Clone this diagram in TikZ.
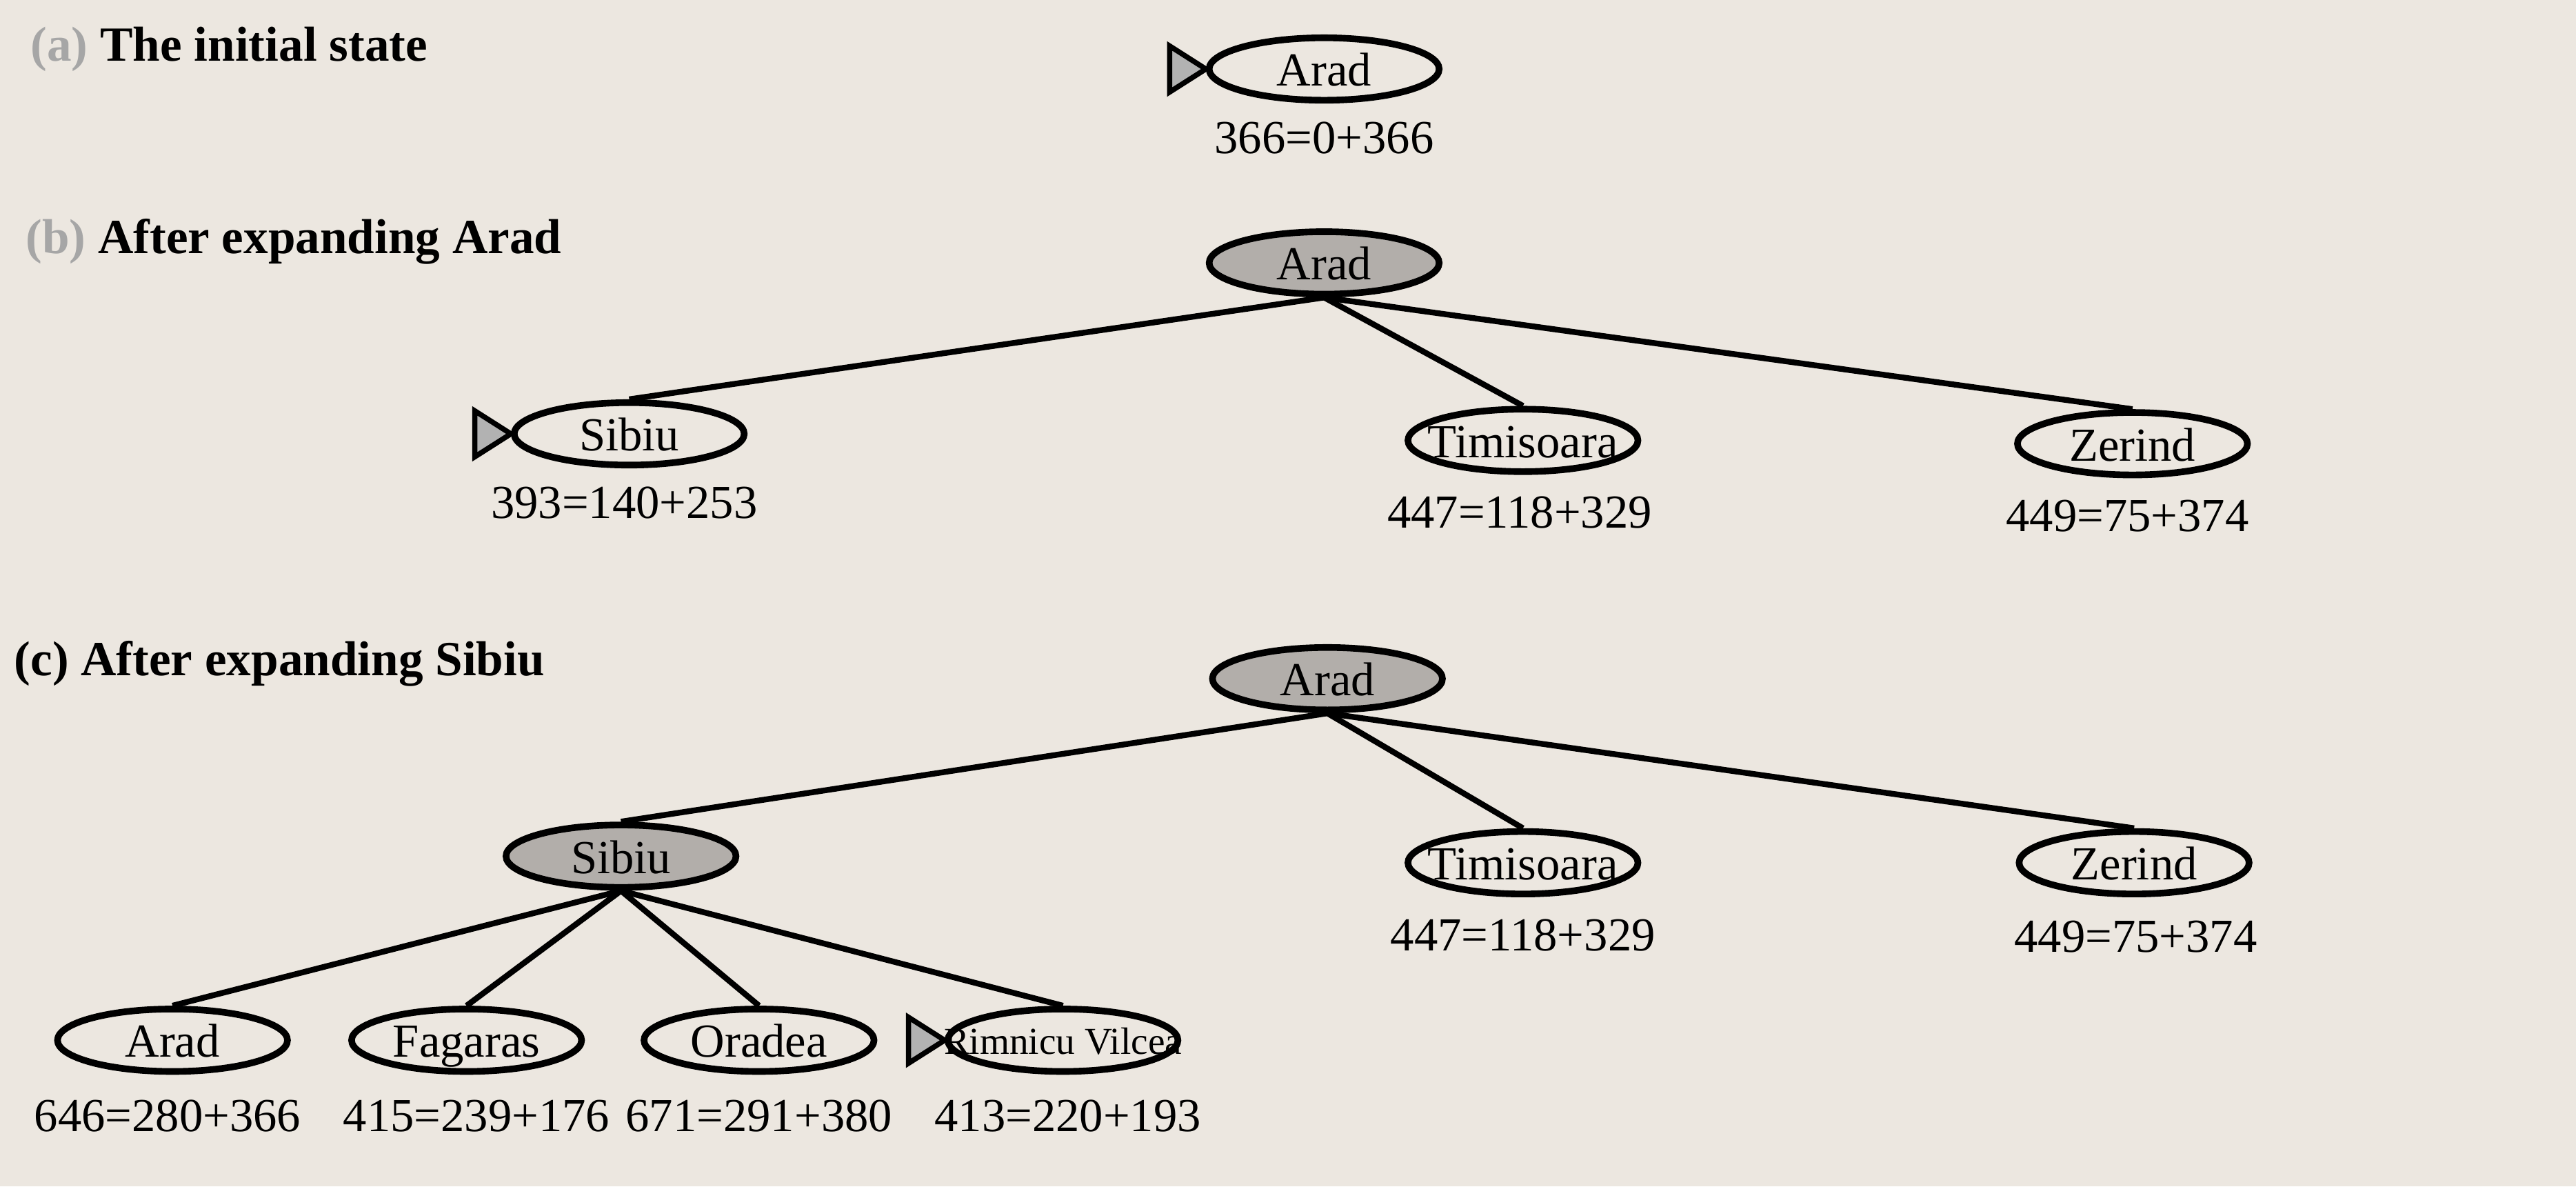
\documentclass[tikz,border=0pt]{standalone}
\usepackage{fontspec}
\setmainfont{Liberation Serif}
\usepackage{tikz}
\usetikzlibrary{shapes.geometric}
\definecolor{paper}{RGB}{236,231,224}
\definecolor{shade}{RGB}{178,174,170}
\newcommand{\cname}[1]{\makebox[0pt]{\raisebox{-0.36em}[0pt][0pt]{#1}}}

\begin{document}
\begin{tikzpicture}[
        city/.style={draw,ellipse,line width=1.15pt,minimum width=1.40cm,minimum height=0.38cm,inner sep=0pt,font=\fontsize{8.2pt}{9pt}\selectfont},
        expanded/.style={city,fill=shade},
        cost/.style={font=\fontsize{8.2pt}{9pt}\selectfont,inner sep=0pt},
        caption/.style={anchor=west,font=\fontsize{8.5pt}{10pt}\selectfont\bfseries,inner sep=0pt},
        pointer/.style={draw,fill=gray!60,line width=0.9pt,line join=miter},
        link/.style={line width=1pt}]
        \fill[paper] (0,0) rectangle (15.68,-7.22);
        \useasboundingbox (0,0) rectangle (15.68,-7.22);

        \node[caption] (ta) at (0.18,-0.30) {\textcolor{gray!70}{(a)} The initial state};
        \node[city] (a-arad) at (8.06,-0.42) {\cname{Arad}};
        \node[cost] (a-arad-f) at (8.06,-0.84) {366=0+366};
        \draw[pointer] (a-arad.west) -- ++(-0.22,0.14) -- ++(0,-0.28) -- cycle;

        \node[caption] (tb) at (0.15,-1.47) {\textcolor{gray!70}{(b)} After expanding Arad};
        \node[expanded] (b-arad) at (8.06,-1.60) {\cname{Arad}};
        \node[city] (b-sibiu) at (3.83,-2.64) {\cname{Sibiu}};
        \node[city] (b-timi) at (9.27,-2.68) {\cname{Timisoara}};
        \node[city] (b-zer) at (12.98,-2.70) {\cname{Zerind}};
        \node[cost] (b-sibiu-f) at (3.80,-3.06) {393=140+253};
        \node[cost] (b-timi-f) at (9.25,-3.12) {447=118+329};
        \node[cost] (b-zer-f) at (12.95,-3.14) {449=75+374};
        \draw[pointer] (b-sibiu.west) -- ++(-0.22,0.14) -- ++(0,-0.28) -- cycle;
        \draw[link] (b-arad.south) -- (b-sibiu.north);
        \draw[link] (b-arad.south) -- (b-timi.north);
        \draw[link] (b-arad.south) -- (b-zer.north);

        \node[caption] (tc) at (0.08,-4.04) {(c) After expanding Sibiu};
        \node[expanded] (c-arad) at (8.08,-4.13) {\cname{Arad}};
        \node[expanded] (c-sibiu) at (3.78,-5.21) {\cname{Sibiu}};
        \node[city] (c-timi) at (9.27,-5.25) {\cname{Timisoara}};
        \node[city] (c-zer) at (12.99,-5.25) {\cname{Zerind}};
        \node[cost] (c-timi-f) at (9.27,-5.69) {447=118+329};
        \node[cost] (c-zer-f) at (13.00,-5.70) {449=75+374};
        \node[city] (c-arad2) at (1.05,-6.33) {\cname{Arad}};
        \node[city] (c-fag) at (2.84,-6.33) {\cname{Fagaras}};
        \node[city] (c-ora) at (4.62,-6.33) {\cname{Oradea}};
        \node[city,font=\fontsize{6.6pt}{8pt}\selectfont] (c-rim) at (6.47,-6.33) {\cname{Rimnicu Vilcea}};
        \node[cost] (c-arad2-f) at (1.02,-6.79) {646=280+366};
        \node[cost] (c-fag-f) at (2.90,-6.79) {415=239+176};
        \node[cost] (c-ora-f) at (4.62,-6.79) {671=291+380};
        \node[cost] (c-rim-f) at (6.50,-6.79) {413=220+193};
        \draw[pointer] (c-rim.west) -- ++(-0.22,0.14) -- ++(0,-0.28) -- cycle;
        \draw[link] (c-arad.south) -- (c-sibiu.north);
        \draw[link] (c-arad.south) -- (c-timi.north);
        \draw[link] (c-arad.south) -- (c-zer.north);
        \draw[link] (c-sibiu.south) -- (c-arad2.north);
        \draw[link] (c-sibiu.south) -- (c-fag.north);
        \draw[link] (c-sibiu.south) -- (c-ora.north);
        \draw[link] (c-sibiu.south) -- (c-rim.north);
    \end{tikzpicture}
\end{document}
